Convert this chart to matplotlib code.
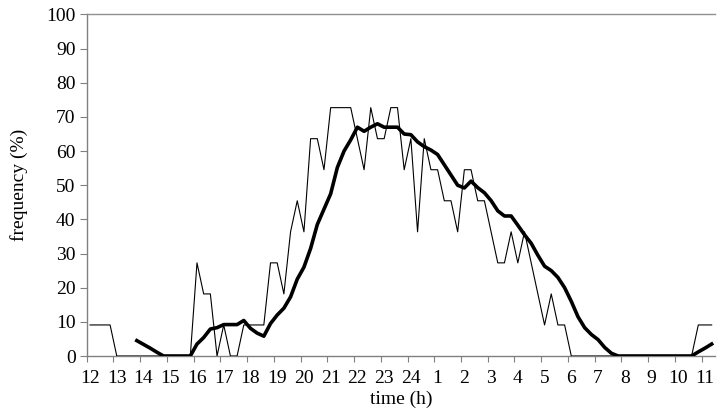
import numpy as np
import matplotlib
matplotlib.use("Agg")
import matplotlib.pyplot as plt

# 15-minute categories from 12:00 (94 categories)
hour_labels = ["12", "13", "14", "15", "16", "17", "18", "19", "20", "21", "22", "23", "24",
               "1", "2", "3", "4", "5", "6", "7", "8", "9", "10", "11"]

u = 100.0 / 11.0
thin_counts = [1, 1, 1, 1, 0, 0, 0, 0, 0, 0,
               0, 0, 0, 0, 0, 0, 3, 2, 2, 0,
               1, 0, 0, 1, 1, 1, 1, 3, 3, 2,
               4, 5, 4, 7, 7, 6, 8, 8, 8, 8,
               7, 6, 8, 7, 7, 8, 8, 6, 7, 4,
               7, 6, 6, 5, 5, 4, 6, 6, 5, 5,
               4, 3, 3, 4, 3, 4, 3, 2, 1, 2,
               1, 1, 0, 0, 0, 0, 0, 0, 0, 0,
               0, 0, 0, 0, 0, 0, 0, 0, 0, 0,
               0, 1, 1, 1]
thin = [c * u for c in thin_counts]

thick = [np.nan, np.nan, np.nan, np.nan, np.nan, np.nan, np.nan, 4.5, 3.4, 2.3,
         1.1, 0.0, 0.0, 0.0, 0.0, 0.0, 3.5, 5.4, 7.9, 8.3,
         9.2, 9.2, 9.2, 10.4, 8.1, 6.7, 5.8, 9.5, 12.0, 14.0,
         17.3, 22.5, 26.0, 31.5, 38.5, 43.0, 47.5, 55.2, 60.0, 63.3,
         67.0, 65.8, 67.0, 68.0, 67.0, 67.0, 67.0, 65.0, 64.8, 62.7,
         61.3, 60.3, 59.0, 56.0, 53.0, 50.0, 49.2, 51.2, 49.3, 47.8,
         45.5, 42.5, 41.0, 41.0, 38.3, 35.5, 33.0, 29.5, 26.3, 25.0,
         23.0, 20.0, 16.0, 11.5, 8.3, 6.3, 4.8, 2.5, 0.8, 0.0,
         0.0, 0.0, 0.0, 0.0, 0.0, 0.0, 0.0, 0.0, 0.0, 0.0,
         0.0, 1.2, 2.3, 3.5]

plt.rcParams['font.family'] = ['Liberation Serif', 'DejaVu Serif']

fig = plt.figure(figsize=(7.23, 4.19), dpi=100)
ax = fig.add_axes([86.7 / 723, (419 - 356) / 419, (715 - 86.7) / 723, (356 - 14.5) / 419])

n = len(thin)
x = np.arange(n) + 0.5
ax.plot(x, thin, color='black', lw=0.8, zorder=3)
ax.plot(x, thick, color='black', lw=2.6, zorder=4, solid_joinstyle='round')

ax.set_xlim(0, n)
ax.set_ylim(0, 100)

ax.set_yticks(np.arange(0, 101, 10))
ax.tick_params(axis='y', direction='out', length=5, width=0.8, color='#808080',
               labelsize=14, pad=3)

ax.set_xticks(np.arange(0, 4 * len(hour_labels), 4))
ax.set_xticklabels([])
ax.tick_params(axis='x', which='major', direction='out', length=4, width=0.8, color='#808080')
ax.set_xticks(np.arange(0, 4 * len(hour_labels), 4) + 0.5, minor=True)
ax.set_xticklabels(hour_labels, minor=True)
ax.tick_params(axis='x', which='minor', length=0, labelsize=14, pad=10)

for s in ['left', 'bottom']:
    ax.spines[s].set_color('#808080')
    ax.spines[s].set_linewidth(1.0)
ax.spines['right'].set_visible(False)
ax.spines['top'].set_color('#909090')
ax.spines['top'].set_linewidth(1.0)

ax.set_xlabel('time (h)', fontsize=14, labelpad=3)
ax.set_ylabel('frequency (%)', fontsize=14, labelpad=13)

fig.savefig('out.png', dpi=100)
